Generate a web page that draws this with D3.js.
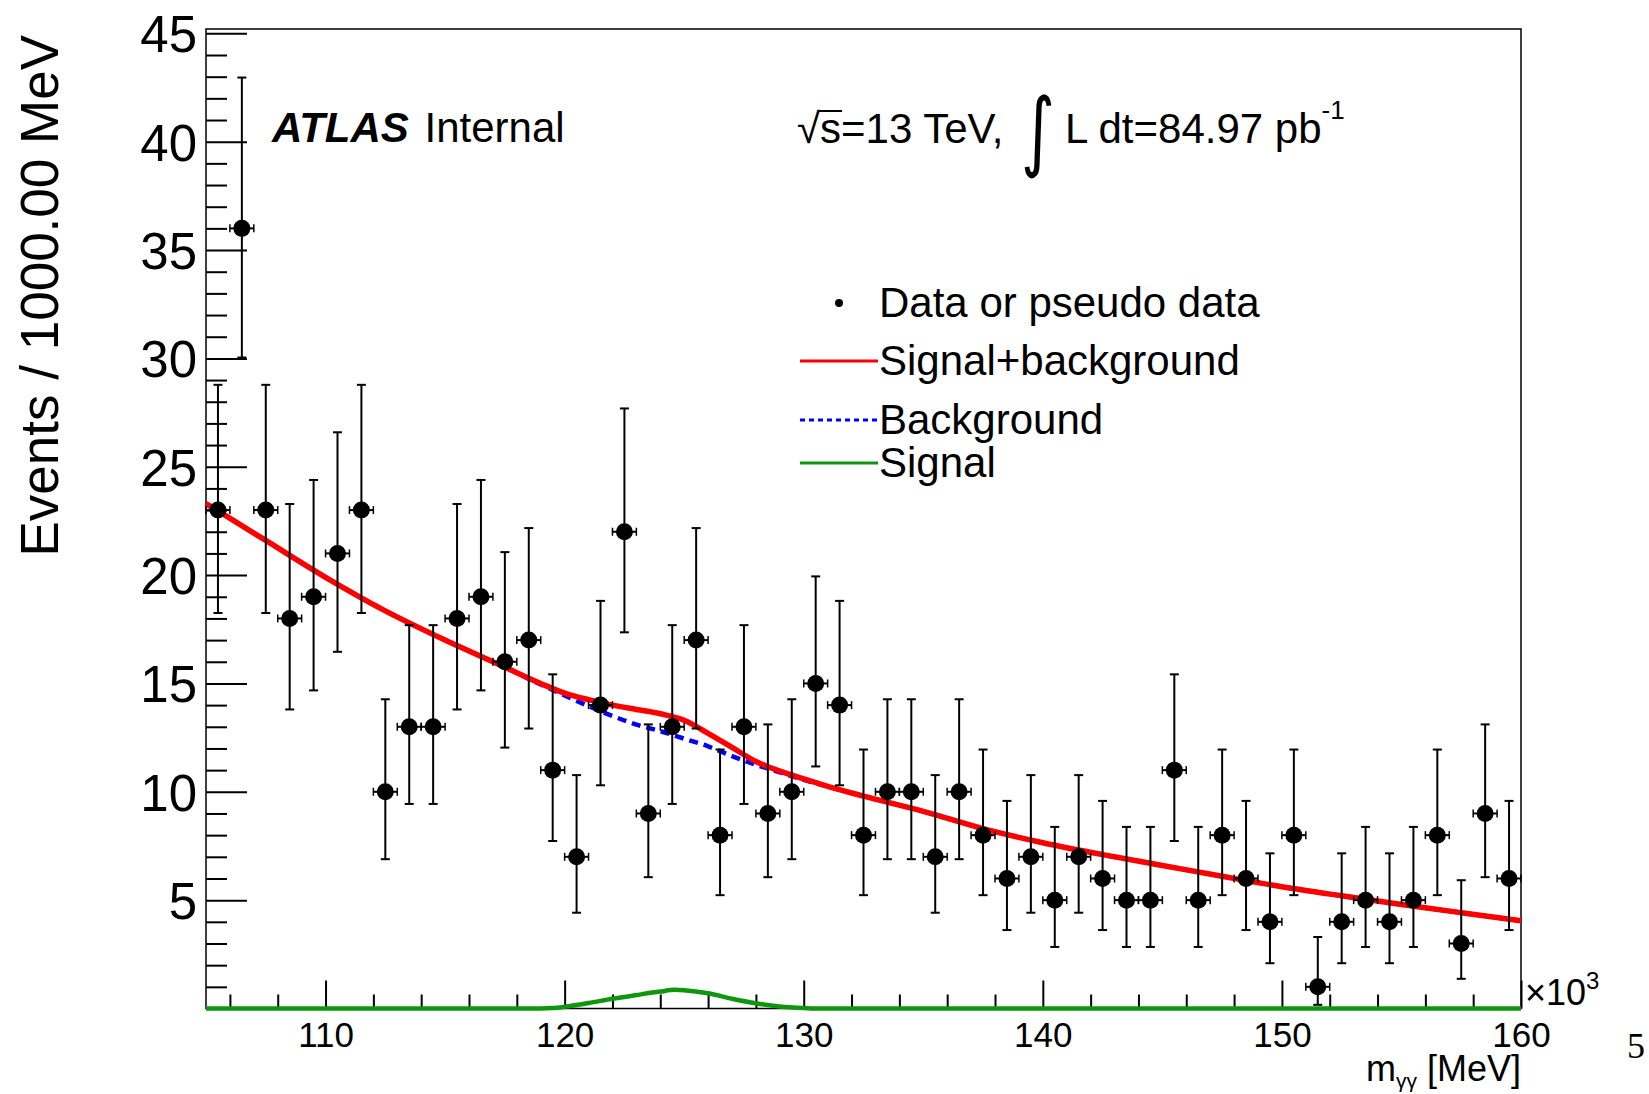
<!DOCTYPE html>
<html><head><meta charset="utf-8">
<script src="https://cdn.jsdelivr.net/npm/d3@7"></script>
<style>body{margin:0;background:#fff} svg{display:block}</style>
</head><body>
<script>
// ---------------- data ----------------
const binCenters = [105.5,106.5,107.5,108.5,109.5,110.5,111.5,112.5,113.5,114.5,
  115.5,116.5,117.5,118.5,119.5,120.5,121.5,122.5,123.5,124.5,
  125.5,126.5,127.5,128.5,129.5,130.5,131.5,132.5,133.5,134.5,
  135.5,136.5,137.5,138.5,139.5,140.5,141.5,142.5,143.5,144.5,
  145.5,146.5,147.5,148.5,149.5,150.5,151.5,152.5,153.5,154.5,
  155.5,156.5,157.5,158.5,159.5];
const counts = [23,36,23,18,19,21,23,10,13,13,18,19,16,17,11,7,14,22,9,13,
  17,8,13,9,10,15,14,8,10,10,7,10,8,6,7,5,7,6,5,5,
  11,5,8,6,4,8,1,4,5,4,5,8,3,9,6];
const errLow = [18.25,30.04,18.25,13.80,14.68,16.46,18.25,6.89,9.44,9.44,
  13.80,14.68,12.04,12.92,7.73,4.42,10.30,17.36,6.06,9.44,
  12.92,5.23,9.44,6.06,6.89,11.17,10.30,5.23,6.89,6.89,
  4.42,6.89,5.23,3.62,4.42,2.84,4.42,3.62,2.84,2.84,
  7.73,2.84,5.23,3.62,2.09,5.23,0.17,2.09,2.84,2.09,
  2.84,5.23,1.37,6.06,3.62];
const errHigh = [28.78,42.96,28.78,23.28,24.39,26.59,28.78,14.27,17.69,17.69,
  23.28,24.39,21.06,22.17,15.42,10.77,18.81,27.69,13.11,17.69,
  22.17,11.95,17.69,13.11,14.27,19.94,18.81,11.95,14.27,14.27,
  10.77,14.27,11.95,9.58,10.77,8.38,10.77,9.58,8.38,8.38,
  15.42,8.38,11.95,9.58,7.16,11.95,3.30,7.16,8.38,7.16,
  8.38,11.95,5.92,13.11,9.58];
const binHalfWidth = 0.5;

// Signal+background (red)
const sbMass  = [105,107.5,110,112.5,115,117.5,119,120,121,122,123,124,125,126,127,128,129,130,131,132.5,135,137.5,140,142.5,145,147.5,150,152.5,155,157.5,160];
const sbValue = [23.3,21.6,19.9,18.35,17.0,15.75,15.0,14.55,14.25,14.0,13.8,13.6,13.3,12.7,12.05,11.4,10.95,10.6,10.25,9.8,9.1,8.3,7.65,7.1,6.6,6.1,5.62,5.2,4.8,4.42,4.05];
// Background (blue dashed)
const bkgMass  = [105,107.5,110,112.5,115,117.5,119,120,121,122,123,124,125,126,127,128,129,130,131,132.5,135,137.5,140,142.5,145,147.5,150,152.5,155,157.5,160];
const bkgValue = [23.3,21.6,19.9,18.35,17.0,15.75,14.95,14.45,13.95,13.5,13.1,12.8,12.45,12.1,11.65,11.25,10.9,10.55,10.25,9.8,9.1,8.3,7.65,7.1,6.6,6.1,5.62,5.2,4.8,4.42,4.05];
// Signal (green)
const sigMass  = [105,119,119.5,120,121,122,123,124,124.6,125,126,127,128,129,130,130.5,160];
const sigValue = [0,0,0.02,0.08,0.25,0.45,0.62,0.78,0.86,0.84,0.70,0.45,0.24,0.09,0.02,0,0];

const xMajorTicks = [110,120,130,140,150,160];
const xMinorTicks = [106,108,112,114,116,118,122,124,126,128,132,134,136,138,142,144,146,148,152,154,156,158];
const yMajorTicks = [5,10,15,20,25,30,35,40,45];
const yMinorTicks = [1,2,3,4,6,7,8,9,11,12,13,14,16,17,18,19,21,22,23,24,26,27,28,29,31,32,33,34,36,37,38,39,41,42,43,44];

// ---------------- layout ----------------
const W = 1649, H = 1094;
const FL = 206, FR = 1521, FT = 29, FB = 1008.5;
const font = "'Liberation Sans', Arial, Helvetica, sans-serif";
const RED = "#ff0000", BLUE = "#0000ff", GREEN = "#0f960f";

const svg = d3.select("body").append("svg").attr("width", W).attr("height", H)
  .style("font-family", font);
svg.append("rect").attr("width", W).attr("height", H).attr("fill", "#fff");

const x = d3.scaleLinear().domain([105, 160]).range([FL, FR]);
const y = d3.scaleLinear().domain([0, 45.2]).range([FB, FT]);

// frame
svg.append("rect").attr("x", FL).attr("y", FT).attr("width", FR - FL).attr("height", FB - FT)
  .attr("fill", "none").attr("stroke", "#000").attr("stroke-width", 1.5);

// x axis
const gx = svg.append("g").attr("transform", `translate(0,${FB})`);
gx.call(d3.axisBottom(x).tickValues(xMajorTicks).tickSize(-28).tickPadding(14).tickFormat(d3.format("d")));
gx.append("g").call(d3.axisBottom(x).tickValues(xMinorTicks).tickSize(-14).tickFormat(""));
gx.selectAll(".domain").remove();
gx.selectAll("line").attr("stroke", "#000").attr("stroke-width", 2);
gx.selectAll("text").attr("font-size", 35).attr("font-family", font).attr("fill", "#000");

// y axis
const gy = svg.append("g").attr("transform", `translate(${FL},0)`);
gy.call(d3.axisLeft(y).tickValues(yMajorTicks).tickSize(-41).tickPadding(9).tickFormat(d3.format("d")));
gy.append("g").call(d3.axisLeft(y).tickValues(yMinorTicks).tickSize(-21).tickFormat(""));
gy.selectAll(".domain").remove();
gy.selectAll("line").attr("stroke", "#000").attr("stroke-width", 2);
gy.selectAll("text").attr("font-size", 51).attr("font-family", font).attr("fill", "#000").attr("dy", "0.36em");

// axis titles
svg.append("text").attr("transform", "translate(58,35) rotate(-90)")
  .attr("text-anchor", "end").attr("font-size", 53).text("Events / 1000.00 MeV");

const xt = svg.append("text").attr("x", FR).attr("y", 1081).attr("text-anchor", "end").attr("font-size", 36);
xt.append("tspan").text("m");
xt.append("tspan").attr("font-size", 21).attr("dy", 7).text("γγ");
xt.append("tspan").attr("dy", -7).text(" [MeV]");

const xm = svg.append("text").attr("x", 1525).attr("y", 1005).attr("font-size", 36);
xm.append("tspan").text("×10");
xm.append("tspan").attr("font-size", 24).attr("dy", -16).text("3");

svg.append("text").attr("x", 1627).attr("y", 1058).attr("font-size", 36)
  .attr("font-family", "'Liberation Serif', 'Times New Roman', serif").text("5");

// ---------------- curves ----------------
const lineGen = d3.line().x(d => x(d[0])).y(d => y(d[1])).curve(d3.curveMonotoneX);
const plotArea = svg.append("g");
plotArea.append("path").datum(d3.zip(bkgMass, bkgValue)).attr("d", lineGen)
  .attr("fill", "none").attr("stroke", BLUE).attr("stroke-width", 4.5).attr("stroke-dasharray", "9,6");
plotArea.append("path").datum(d3.zip(sbMass, sbValue)).attr("d", lineGen)
  .attr("fill", "none").attr("stroke", RED).attr("stroke-width", 5.5);
plotArea.append("path").datum(d3.zip(sigMass, sigValue)).attr("d", lineGen)
  .attr("fill", "none").attr("stroke", GREEN).attr("stroke-width", 4.5);

// ---------------- data points ----------------
const pts = d3.range(binCenters.length).map(i => ({
  m: binCenters[i], n: counts[i], lo: errLow[i], hi: errHigh[i]
}));
const dg = svg.append("g").selectAll("g").data(pts).join("g");
dg.append("line").attr("x1", d => x(d.m)).attr("x2", d => x(d.m))
  .attr("y1", d => y(d.lo)).attr("y2", d => y(d.hi)).attr("stroke", "#000").attr("stroke-width", 2);
dg.append("line").attr("x1", d => x(d.m) - 4.5).attr("x2", d => x(d.m) + 4.5)
  .attr("y1", d => y(d.hi)).attr("y2", d => y(d.hi)).attr("stroke", "#000").attr("stroke-width", 2);
dg.append("line").attr("x1", d => x(d.m) - 4.5).attr("x2", d => x(d.m) + 4.5)
  .attr("y1", d => y(d.lo)).attr("y2", d => y(d.lo)).attr("stroke", "#000").attr("stroke-width", 2);
dg.append("line").attr("x1", d => x(d.m - binHalfWidth)).attr("x2", d => x(d.m + binHalfWidth))
  .attr("y1", d => y(d.n)).attr("y2", d => y(d.n)).attr("stroke", "#000").attr("stroke-width", 2);
dg.append("line").attr("x1", d => x(d.m - binHalfWidth)).attr("x2", d => x(d.m - binHalfWidth))
  .attr("y1", d => y(d.n) - 4).attr("y2", d => y(d.n) + 4).attr("stroke", "#000").attr("stroke-width", 1.5);
dg.append("line").attr("x1", d => x(d.m + binHalfWidth)).attr("x2", d => x(d.m + binHalfWidth))
  .attr("y1", d => y(d.n) - 4).attr("y2", d => y(d.n) + 4).attr("stroke", "#000").attr("stroke-width", 1.5);
dg.append("circle").attr("cx", d => x(d.m)).attr("cy", d => y(d.n)).attr("r", 8.5).attr("fill", "#000");

// ---------------- labels ----------------
const at = svg.append("text").attr("x", 272).attr("y", 142).attr("font-size", 42);
at.append("tspan").attr("font-weight", "bold").attr("font-style", "italic").text("ATLAS");
at.append("tspan").attr("dx", 4).text(" Internal");

const t1 = svg.append("text").attr("x", 797).attr("y", 143).attr("font-size", 42).text("√s=13 TeV,");
const sqrtW = t1.node().getSubStringLength(0, 1);
const sW = t1.node().getSubStringLength(1, 1);
svg.append("line").attr("x1", 797 + sqrtW - 2).attr("x2", 797 + sqrtW + sW + 1)
  .attr("y1", 111).attr("y2", 111).attr("stroke", "#000").attr("stroke-width", 2);
svg.append("text").attr("x", 1021).attr("y", 160).attr("font-size", 62)
  .attr("font-family", "'DejaVu Sans', sans-serif")
  .attr("transform", "translate(1021,160) scale(1.05,1.4) translate(-1021,-160)")
  .text("∫");
const t2 = svg.append("text").attr("x", 1065).attr("y", 143).attr("font-size", 42);
t2.append("tspan").text("L dt=84.97 pb");
t2.append("tspan").attr("font-size", 26).attr("dy", -24).text("-1");

// legend
const lg = svg.append("g").attr("font-size", 42);
svg.append("circle").attr("cx", 839).attr("cy", 303).attr("r", 4).attr("fill", "#000");
lg.append("text").attr("x", 879).attr("y", 317).text("Data or pseudo data");
lg.append("line").attr("x1", 800).attr("x2", 878).attr("y1", 361).attr("y2", 361).attr("stroke", RED).attr("stroke-width", 3);
lg.append("text").attr("x", 879).attr("y", 375).text("Signal+background");
lg.append("line").attr("x1", 800).attr("x2", 878).attr("y1", 420).attr("y2", 420).attr("stroke", BLUE).attr("stroke-width", 3).attr("stroke-dasharray", "5,4");
lg.append("text").attr("x", 879).attr("y", 434).text("Background");
lg.append("line").attr("x1", 800).attr("x2", 878).attr("y1", 463).attr("y2", 463).attr("stroke", GREEN).attr("stroke-width", 3);
lg.append("text").attr("x", 879).attr("y", 477).text("Signal");
</script>
</body></html>
